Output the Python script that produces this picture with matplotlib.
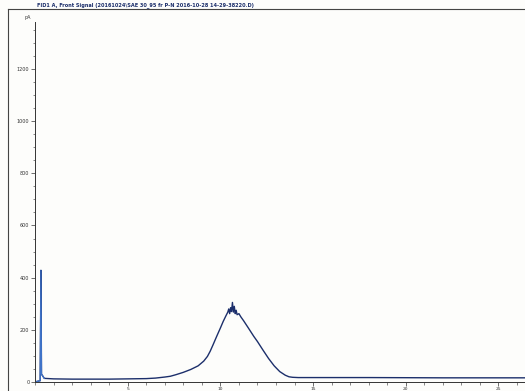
import numpy as np
import matplotlib.pyplot as plt

title = "FID1 A, Front Signal (20161024\\SAE 30_95 fr P-N 2016-10-28 14-29-38220.D)"

# retention time (min) and detector signal (pA)
time = [0.1, 0.28, 0.32, 0.35, 0.4, 0.5, 1.0, 2, 3, 4, 5, 6, 6.5, 7, 7.3, 7.6,
        8.0, 8.4, 8.8, 9.1, 9.3, 9.45, 9.6, 9.8, 10.0, 10.15, 10.3, 10.4,
        10.45, 10.5, 10.55, 10.6, 10.65, 10.7, 10.75, 10.8, 10.85, 10.9,
        11.0, 11.1, 11.25, 11.5, 11.8, 12.0, 12.3, 12.6, 12.9, 13.2, 13.5,
        13.7, 13.9, 14.2, 15, 18, 22, 26.5]
signal = [2, 5, 428, 30, 25, 14, 12, 11, 11, 11, 12, 13, 15, 19, 22, 28,
          37, 48, 62, 80, 98, 118, 142, 175, 207, 232, 254, 268,
          280, 262, 285, 270, 305, 268, 290, 262, 275, 258,
          262, 250, 235, 208, 175, 155, 122, 90, 62, 40, 26,
          20, 18, 17, 17, 17, 16, 16]

y_ticks = [0, 200, 400, 600, 800, 1000, 1200]
x_ticks = [5, 10, 15, 20, 25]

fig = plt.figure(figsize=(5.25, 3.91), dpi=100, facecolor="#fdfdfb")
ax = fig.add_axes([35 / 525, 9 / 391, 490 / 525, 360 / 391])
ax.set_facecolor("#fdfdfb")

ax.plot(time, signal, color="#1c2f6b", lw=1.0)
ax.plot(time[:6], signal[:6], color="#3f73c8", lw=0.9)

ax.set_xlim(0, 26.43)
ax.set_ylim(0, 1380)

ax.set_yticks(y_ticks)
ax.set_yticks(np.arange(0, 1380, 50), minor=True)
ax.set_xticks(x_ticks)
ax.set_xticks(np.arange(0, 27, 1), minor=True)
ax.tick_params(labelsize=3.5, colors="#333333", width=0.5, length=3, pad=1)
ax.tick_params(axis="x", labelsize=3.2, pad=0.5)
ax.tick_params(which="minor", width=0.5, length=1.8, colors="#555555")

for side in ["top", "right"]:
    ax.spines[side].set_visible(False)
for side in ["left", "bottom"]:
    ax.spines[side].set_linewidth(0.7)
    ax.spines[side].set_color("#333333")

# page frame of the printout
fig.add_artist(plt.Line2D([8 / 525, 8 / 525], [0, 1 - 9 / 391], color="#444444", lw=0.8))
fig.add_artist(plt.Line2D([8 / 525, 1], [1 - 9 / 391, 1 - 9 / 391], color="#444444", lw=0.8))

fig.text(37 / 525, 1 - 5 / 391, title, fontsize=3.6, fontweight="bold", color="#1c2f6b", va="center")
fig.text(31 / 525, 1 - 17 / 391, "pA", fontsize=3.5, color="#333333", ha="right", va="center")

fig.savefig("out.png", dpi=100, facecolor=fig.get_facecolor())
